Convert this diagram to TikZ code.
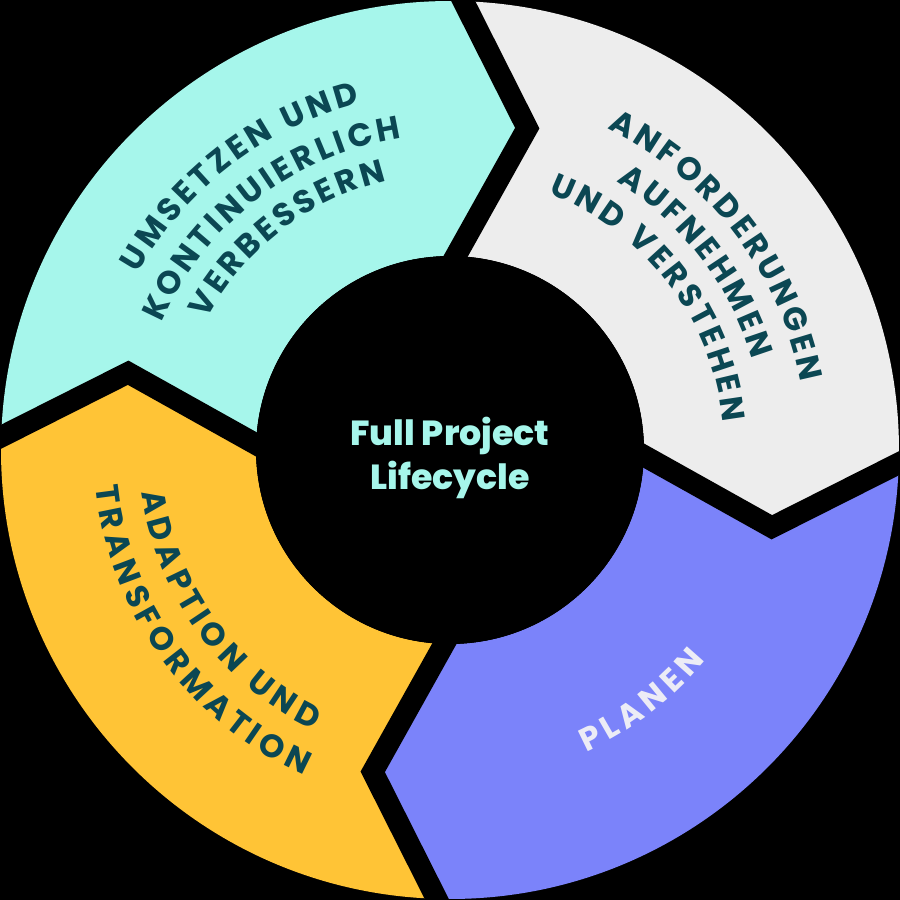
\documentclass[tikz,border=0pt]{standalone}
\usepackage{fontspec}
\newfontfamily\arcfont{Poppins}
\newfontfamily\hubfamily{Poppins ExtraBold}
\usetikzlibrary{calc}

\definecolor{ringteal}{HTML}{A6F6EB}
\definecolor{ringgrey}{HTML}{EDEDED}
\definecolor{ringblue}{HTML}{7B83FA}
\definecolor{ringyellow}{HTML}{FFC436}
\definecolor{ringink}{HTML}{0B4753}
\definecolor{planenink}{HTML}{ECECF6}

\newcommand\labelfont{\arcfont\bfseries\fontsize{9.2}{10}\selectfont}
\newcommand\hubfont{\hubfamily\fontsize{9.9}{12.5}\selectfont}
\newcommand\arctrack{1.25}
\newlength\glyphwd
\def\gapchar{_}

% letter widths, measured once
\AtBeginDocument{%
  \foreach \ch in {A,B,C,D,E,F,G,H,I,J,K,L,M,N,O,P,Q,R,S,T,U,V,W,X,Y,Z}{%
    \settowidth\glyphwd{\labelfont\ch}%
    \expandafter\xdef\csname lw\ch\endcsname{\the\glyphwd}%
  }%
  \settowidth\glyphwd{\labelfont\ }%
  \expandafter\xdef\csname lw_\endcsname{\the\glyphwd}%
}

% letters along an arc: radius, mid angle, direction (-1 cw / 1 ccw), style, letters
\newcommand\arclabel[5]{%
  \gdef\arctotal{0}%
  \foreach \ch in {#5}{%
    \edef\chw{\csname lw\ch\endcsname}%
    \pgfmathsetmacro\arcsum{\arctotal+\chw+\arctrack}%
    \global\let\arctotal\arcsum
  }%
  \pgfmathsetmacro\arcstart{-(\arctotal-\arctrack)/2}%
  \global\let\arcpos\arcstart
  \foreach \ch in {#5}{%
    \edef\chw{\csname lw\ch\endcsname}%
    \pgfmathsetmacro\arcang{#2+(#3)*(\arcpos+\chw/2)/28.4528/#1*180/pi}%
    \pgfmathsetmacro\arcrot{\arcang+(#3)*90}%
    \ifx\ch\gapchar\else
      \node[#4,rotate=\arcrot] at (\arcang:#1) {\ch};
    \fi
    \pgfmathsetmacro\arcnext{\arcpos+\chw+\arctrack}%
    \global\let\arcpos\arcnext
  }%
}

\begin{document}
\begin{tikzpicture}[
    gap/.style={line width=0.215cm,black,line join=miter},
    hub/.style={circle,minimum size=3.88cm,align=center,font=\hubfont,text=ringteal},
    ring text/.style={font=\labelfont,text=ringink,inner sep=0pt,anchor=center},
    planen text/.style={font=\labelfont,text=planenink,inner sep=0pt,anchor=center}
    ]
    \useasboundingbox (-4.5,-4.5) rectangle (4.5,4.5);
    \fill[black] (-4.5,-4.5) rectangle (4.5,4.5);
    % segments
    \foreach \a/\col in {178.3/ringteal,88.3/ringgrey,-1.7/ringblue,-91.7/ringyellow}{
        \pgfmathsetmacro\b{\a-90}
        \fill[\col] (\a:4.49) arc[start angle=\a,end angle=\b,radius=4.49]
            -- ({\b-11.8}:3.31) -- (\b:1.94) arc[start angle=\b,end angle=\a,radius=1.94]
            -- ({\a-11.8}:3.31) -- cycle;
    }
    % gaps
    \foreach \a in {178.3,88.3,-1.7,-91.7}{
        \coordinate (tip) at ({\a-11.8}:3.31);
        \coordinate (out) at (\a:4.49);
        \coordinate (in) at (\a:1.94);
        \draw[gap] ($(tip)!1.25!(out)$) -- (tip) -- ($(tip)!1.25!(in)$);
    }
    % centre
    \fill[black] (0,0) circle (1.94);
    \node[hub] (hub) at (0,-0.08) {Full Project\\Lifecycle};
    % labels
    \arclabel{3.70}{127.5}{-1}{ring text}{U,M,S,E,T,Z,E,N,_,U,N,D}
    \arclabel{3.27}{127.5}{-1}{ring text}{K,O,N,T,I,N,U,I,E,R,L,I,C,H}
    \arclabel{2.88}{127.5}{-1}{ring text}{V,E,R,B,E,S,S,E,R,N}
    \arclabel{3.69}{37.4}{-1}{ring text}{A,N,F,O,R,D,E,R,U,N,G,E,N}
    \arclabel{3.27}{37.4}{-1}{ring text}{A,U,F,N,E,H,M,E,N}
    \arclabel{2.86}{37.4}{-1}{ring text}{U,N,D,_,V,E,R,S,T,E,H,E,N}
    \arclabel{3.00}{215.9}{1}{ring text}{A,D,A,P,T,I,O,N,_,U,N,D}
    \arclabel{3.45}{215.9}{1}{ring text}{T,R,A,N,S,F,O,R,M,A,T,I,O,N}
    \arclabel{3.20}{307.4}{1}{planen text}{P,L,A,N,E,N}
\end{tikzpicture}
\end{document}
